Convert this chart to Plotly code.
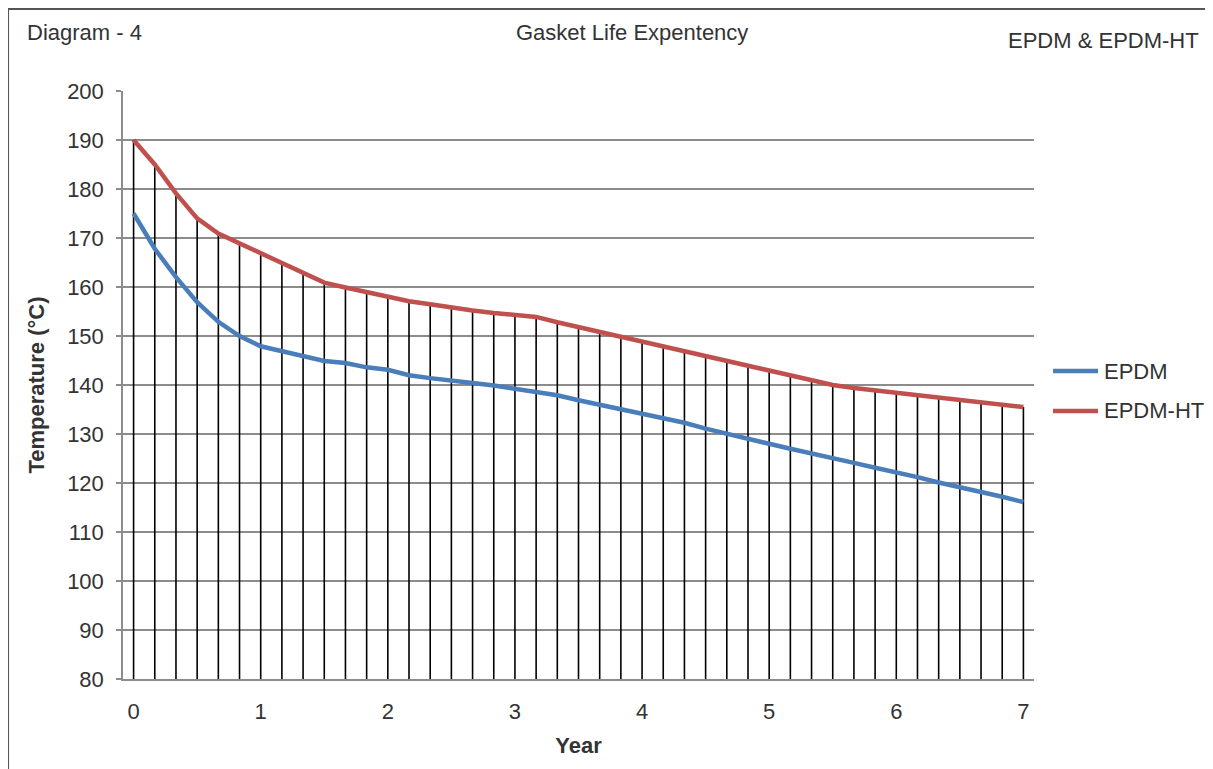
import plotly.graph_objects as go

# x positions: one point every two months, 0..7 years
months = list(range(0, 85, 2))
year = [m / 12 for m in months]

epdm = [175, 167.8, 162, 156.9, 152.9, 150, 147.9, 146.9, 145.7, 144.9, 144.5, 143.6, 143.1,
        142, 141.4, 140.8, 140.4, 139.9, 139.3, 138.7, 137.9, 136.9, 136, 135.1, 134.2,
        133.3, 132.3, 131.1, 130, 129, 128, 127, 126.1, 125.1, 124.1, 123.1,
        122.2, 121.2, 120.1, 119.2, 118.2, 117.2, 116.1]
epdm_ht = [190, 185, 179.1, 174, 170.9, 168.9, 166.8, 164.8, 162.9, 160.9, 159.9, 158.9, 157.9,
           157.1, 156.5, 155.8, 155.2, 154.7, 154.3, 153.9, 152.8, 151.8, 150.8, 149.9, 149,
           147.9, 146.9, 145.9, 144.9, 143.9, 143, 141.9, 140.8, 140, 139.4, 138.9, 138.3,
           137.9, 137.5, 137, 136.5, 135.9, 135.5]
series_names = ['EPDM', 'EPDM-HT']

y_ticks = list(range(80, 201, 10))
x_ticks = [0, 1, 2, 3, 4, 5, 6, 7]

blue = '#4a7ebb'
red = '#c0504d'
font = 'Liberation Sans, Arial, sans-serif'
txt = '#333333'

fig = go.Figure()

# drop lines from the EPDM-HT curve down to the axis floor
fig.add_trace(go.Scatter(x=year, y=epdm_ht, mode='markers', showlegend=False, hoverinfo='skip',
                         marker={'size': 1, 'opacity': 0},
                         error_y=dict(type='data', symmetric=False,
                                      array=[0] * len(epdm_ht),
                                      arrayminus=[v - y_ticks[0] for v in epdm_ht],
                                      width=0, color='black', thickness=1.6)))

fig.add_trace(go.Scatter(x=year, y=epdm, name=series_names[0], mode='lines',
                         showlegend=False, line={'color': blue, 'width': 4.5}))
fig.add_trace(go.Scatter(x=year, y=epdm_ht, name=series_names[1], mode='lines',
                         showlegend=False, line={'color': red, 'width': 4.5}))

# page body adds 8px, so the figure is 8px smaller than the window
fig.update_layout(
    width=1205, height=761,
    margin=dict(l=115, r=179, t=83, b=90),
    paper_bgcolor='white', plot_bgcolor='white',
    font=dict(family=font, size=22, color=txt),
    showlegend=False,
    xaxis=dict(range=[-1 / 12, 7 + 1 / 12], tickvals=x_ticks, showgrid=False, zeroline=False,
               showline=True, linecolor='#8c8c8c', linewidth=1.5, ticks='',
               ticklabelstandoff=12,
               title=dict(text='<b>Year</b>', standoff=14, font=dict(size=22, color=txt))),
    yaxis=dict(range=[80, 200], tickvals=y_ticks, showgrid=True, gridcolor='#8c8c8c',
               gridwidth=1.5, zeroline=False, showline=True, linecolor='#8c8c8c', linewidth=1.5,
               ticks='outside', ticklen=5, tickcolor='#8c8c8c', tickwidth=1.5,
               ticklabelstandoff=8,
               title=dict(text='<b>Temperature (°C)</b>', standoff=16,
                          font=dict(size=22, color=txt))),
)

fig.add_shape(type='rect', xref='paper', yref='paper',
              x0=-0.1262, x1=1.21, y0=-0.2, y1=1.1395,
              line=dict(color='#555555', width=2), layer='below')

# legend drawn by hand so the sample lines match the reference length
legend_y = [0.5238, 0.4558]
for name, col, ly in zip(series_names, [blue, red], legend_y):
    fig.add_shape(type='line', xref='paper', yref='paper', x0=1.0209, x1=1.0703, y0=ly, y1=ly,
                  line=dict(color=col, width=4.5))
    fig.add_annotation(text=name, xref='paper', yref='paper', x=1.0747, y=ly,
                       xanchor='left', yanchor='middle', showarrow=False, font=dict(size=22))

fig.add_annotation(text='Diagram - 4', xref='paper', yref='paper', x=-0.1076, y=1.1003,
                   xanchor='left', yanchor='middle', showarrow=False, font=dict(size=22))
fig.add_annotation(text='Gasket Life Expentency', xref='paper', yref='paper', x=0.5587, y=1.1003,
                   xanchor='center', yanchor='middle', showarrow=False, font=dict(size=22))
fig.add_annotation(text='EPDM & EPDM-HT', xref='paper', yref='paper', x=1.1833, y=1.0867,
                   xanchor='right', yanchor='middle', showarrow=False, font=dict(size=22))

fig.write_html("out.html")
